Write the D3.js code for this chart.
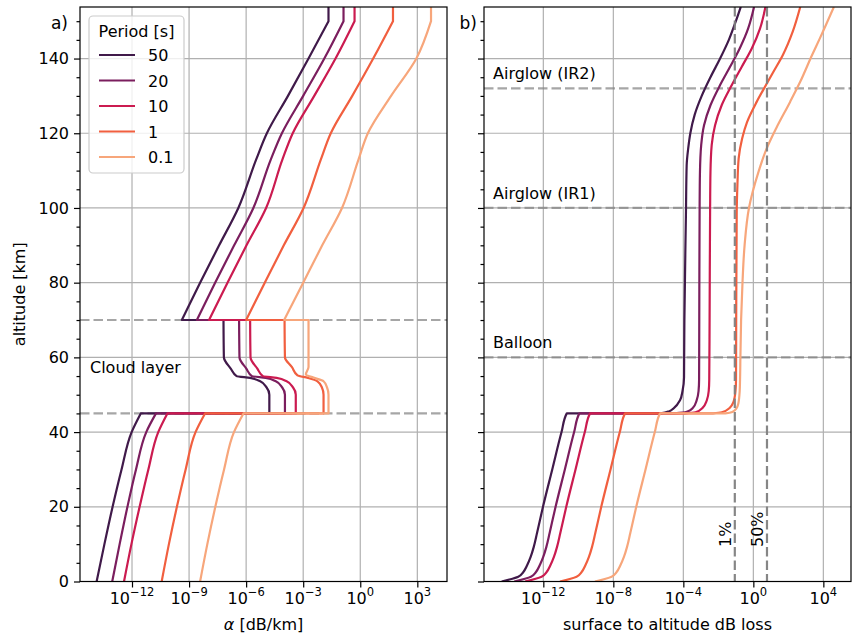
<!DOCTYPE html>
<html>
<head>
<meta charset="utf-8">
<script src="https://cdn.jsdelivr.net/npm/d3@7"></script>
<style>
  body { margin: 0; background: #fff; }
  svg { display: block; }
  text { font-family: "DejaVu Sans", sans-serif; fill: #000; }
</style>
</head>
<body>
<svg id="chart" width="852" height="641"></svg>
<script>
// ---- data (altitude km, log10 of value) ----
let periods = ["50", "20", "10", "1", "0.1"];

// panel a) attenuation alpha [dB/km]
let alpha50 = [[0,-13.86],[10,-13.45],[20,-13.02],[30,-12.55],[40,-12.02],[45,-11.54],
  [45,-4.78],[50,-4.78],[52,-4.93],[53.6,-5.26],[54.5,-5.79],[55,-6.5],[57,-6.81],[60,-7.17],[70,-7.19],
  [70,-9.38],[80,-8.42],[90,-7.42],[100,-6.41],[113,-5.47],[120,-4.91],[130,-3.8],[140,-2.72],[150,-1.67],[153.8,-1.67]];
let alpha20 = [[0,-13.04],[10,-12.65],[20,-12.24],[30,-11.79],[40,-11.25],[45,-10.74],
  [45,-3.96],[50,-3.96],[52,-4.11],[53.6,-4.44],[54.5,-4.97],[55,-5.7],[57,-5.99],[60,-6.35],[70,-6.37],
  [70,-8.59],[80,-7.63],[90,-6.63],[100,-5.62],[113,-4.7],[120,-4.12],[130,-3.0],[140,-1.89],[150,-0.88],[153.8,-0.88]];
let alpha10 = [[0,-12.42],[10,-12.03],[20,-11.6],[30,-11.14],[40,-10.62],[45,-10.14],
  [45,-3.39],[50,-3.39],[52,-3.54],[53.6,-3.87],[54.5,-4.4],[55,-5.12],[57,-5.41],[60,-5.77],[70,-5.79],
  [70,-7.95],[80,-6.98],[90,-5.98],[100,-4.95],[113,-4.09],[120,-3.55],[130,-2.42],[140,-1.3],[150,-0.3],[153.8,-0.3]];
let alpha1 = [[0,-10.44],[10,-10.06],[20,-9.64],[30,-9.18],[40,-8.66],[45,-8.16],
  [45,-1.93],[50,-1.93],[52,-2.02],[53.6,-2.25],[54.5,-2.75],[55.2,-3.3],[57.4,-3.59],[60,-3.96],[70,-3.98],
  [70,-6.0],[80,-5.02],[90,-4.02],[100,-2.98],[113,-2.07],[120,-1.55],[130,-0.42],[140,0.68],[150,1.72],[153.8,1.72]];
let alpha01 = [[0,-8.42],[10,-8.04],[20,-7.62],[30,-7.16],[40,-6.64],[45,-6.14],
  [45,-1.67],[50,-1.67],[52,-1.75],[53.6,-1.93],[54.6,-2.46],[55.4,-2.86],[57.4,-2.72],[60,-2.72],[70,-2.72],
  [70,-4.0],[80,-3.0],[90,-2.0],[100,-0.96],[113,-0.09],[120,0.4],[130,1.62],[140,2.95],[150,3.72],[153.8,3.72]];

// panel b) surface to altitude loss [dB]
let loss50 = [[0,-14.38],[1.3,-13.43],[2.5,-13.15],[4.4,-12.92],[6.5,-12.73],[9.2,-12.55],[13,-12.36],[20,-12.02],[30,-11.49],[40,-10.96],[45,-10.66],
  [45.02,-5.3],[45.6,-4.8],[46.3,-4.57],[48.5,-4.19],[51.2,-4.04],[54.7,-3.96],[70,-3.94],[98.9,-3.85],
  [111.4,-3.81],[116,-3.72],[120,-3.6],[125,-3.35],[130,-2.95],[135,-2.45],[140,-1.9],[145,-1.4],[150,-1.0],[153.8,-0.72]];
let loss20 = [[0,-13.66],[1.3,-12.71],[2.5,-12.43],[4.4,-12.2],[6.5,-12.01],[9.2,-11.83],[13,-11.64],[20,-11.3],[30,-10.77],[40,-10.24],[45,-9.94],
  [45.02,-4.5],[45.4,-3.8],[46.5,-3.45],[48.5,-3.24],[51,-3.13],[54,-3.1],[70,-3.09],[100,-3.07],
  [109.6,-3.05],[116.8,-2.98],[122.1,-2.82],[127.5,-2.45],[132.9,-1.9],[137.8,-1.33],[142.7,-0.78],[148,-0.3],[153.8,0.04]];
let loss10 = [[0,-13.05],[1.3,-12.1],[2.5,-11.82],[4.4,-11.59],[6.5,-11.4],[9.2,-11.22],[13,-11.03],[20,-10.69],[30,-10.16],[40,-9.63],[45,-9.33],
  [45.02,-3.9],[45.3,-3.3],[46.5,-2.9],[48.5,-2.66],[51,-2.55],[54,-2.52],[70,-2.5],[100,-2.47],
  [109.6,-2.45],[116.8,-2.38],[122.1,-2.19],[127.5,-1.81],[132.9,-1.23],[137.8,-0.66],[142.7,-0.09],[148,0.38],[153.8,0.69]];
let loss1 = [[0,-11.05],[1.3,-10.1],[2.5,-9.82],[4.4,-9.59],[6.5,-9.4],[9.2,-9.22],[13,-9.03],[20,-8.69],[30,-8.16],[40,-7.63],[45,-7.33],
  [45.02,-2.3],[45.3,-1.8],[46.5,-1.35],[48,-1.14],[51,-1.02],[54,-0.99],[70,-0.98],[98.9,-0.95],
  [106.1,-0.91],[113.2,-0.84],[118.6,-0.64],[123,-0.36],[128.4,0.19],[133.3,0.77],[136.4,1.14],[140.9,1.68],[147.2,2.25],[153.8,2.68]];
let loss01 = [[0,-9.05],[1.3,-8.1],[2.5,-7.82],[4.4,-7.59],[6.5,-7.4],[9.2,-7.22],[13,-7.03],[20,-6.69],[30,-6.16],[40,-5.63],[45,-5.33],
  [45.02,-1.6],[45.4,-1.2],[46.5,-0.95],[47.6,-0.86],[51,-0.78],[54,-0.76],[60,-0.74],[70,-0.7],[80,-0.62],[90,-0.5],
  [100,-0.25],[109.6,0.29],[116,0.77],[121.3,1.3],[128.4,2.1],[133.7,2.67],[140.9,3.35],[145.4,3.8],[153.8,4.6]];

let alphaSeries = [alpha50, alpha20, alpha10, alpha1, alpha01];
let lossSeries = [loss50, loss20, loss10, loss1, loss01];

let altTicks = [0, 20, 40, 60, 80, 100, 120, 140];
let alphaTicks = [-12, -9, -6, -3, 0, 3];
let lossTicks = [-12, -8, -4, 0, 4];

let cloudLayer = [45, 70];
let platforms = [["Balloon", 60], ["Airglow (IR1)", 100], ["Airglow (IR2)", 132]];
let lossMarks = [["1%", 0.0873], ["50%", 6.02]];

// ---- layout ----
let colors = ["#401a4a", "#7b1e5e", "#cb1b50", "#f15f3f", "#f7a67b"];
let fs = 16;
let svg = d3.select("#chart");
let yTop = 7, yBot = 581.5;

let yScale = d3.scaleLinear().domain([0, 153.8]).range([yBot, yTop]);
let xA = d3.scaleLog().domain([Math.pow(10, -14.734), Math.pow(10, 4.56)]).range([80, 447]);
let xB = d3.scaleLog().domain([Math.pow(10, -15.39), Math.pow(10, 5.58)]).range([484, 851]);

let minorAlt = d3.range(5, 155, 5).filter((d) => d % 20 !== 0);

let drawPanel = (xScale, ticks, id) => {
  let [x0, x1] = xScale.range();
  let g = svg.append("g");

  // grid
  g.selectAll(".vg").data(ticks).enter().append("line")
    .attr("x1", (d) => xScale(Math.pow(10, d))).attr("x2", (d) => xScale(Math.pow(10, d)))
    .attr("y1", yTop).attr("y2", yBot)
    .attr("stroke", "#b0b0b0").attr("stroke-width", 1.2);
  g.selectAll(".hg").data(altTicks).enter().append("line")
    .attr("x1", x0).attr("x2", x1)
    .attr("y1", (d) => yScale(d)).attr("y2", (d) => yScale(d))
    .attr("stroke", "#b0b0b0").attr("stroke-width", 1.2);

  // y axis ticks
  let yAxis = d3.axisLeft(yScale).tickValues(altTicks).tickSize(6).tickPadding(5);
  if (id === "b") yAxis.tickFormat(() => "");
  let ya = g.append("g").attr("transform", "translate(" + x0 + ",0)").call(yAxis);
  let yMinor = g.append("g").attr("transform", "translate(" + x0 + ",0)")
    .call(d3.axisLeft(yScale).tickValues(minorAlt).tickSize(3.5).tickFormat(() => ""));

  // x axis ticks with 10^n labels
  let xa = g.append("g").attr("transform", "translate(0," + yBot + ")")
    .call(d3.axisBottom(xScale).tickValues(ticks.map((d) => Math.pow(10, d))).tickSize(6).tickFormat(() => ""));

  [ya, yMinor, xa].forEach((a) => {
    a.select(".domain").remove();
    a.selectAll("line").attr("stroke", "#000").attr("stroke-width", 1.2);
    a.selectAll("text").attr("font-size", fs).attr("font-family", "DejaVu Sans").attr("fill", "#000");
  });

  let lab = g.selectAll(".xl").data(ticks).enter().append("text")
    .attr("x", (d) => xScale(Math.pow(10, d)))
    .attr("y", 604)
    .attr("text-anchor", "middle")
    .attr("font-size", fs);
  lab.append("tspan").text("10");
  lab.append("tspan").attr("dy", -8).attr("font-size", fs * 0.72)
    .text((d) => (d < 0 ? "\u2212" + (-d) : "" + d));

  return g;
};

// smooth each piece between jumps, keep jumps and a vertical top end sharp
let buildPath = (series, xScale) => {
  let gen = d3.line()
    .x((d) => xScale(Math.pow(10, d[1])))
    .y((d) => yScale(d[0]))
    .curve(d3.curveMonotoneY);
  let segs = [];
  let cur = [];
  series.forEach((p, i) => {
    if (i > 0 && p[0] === series[i - 1][0]) {
      segs.push(cur);
      cur = [];
    }
    cur.push(p);
  });
  segs.push(cur);

  let d = "";
  segs.forEach((seg, k) => {
    let n = seg.length;
    let tail = null;
    if (k === segs.length - 1 && n > 2 && seg[n - 1][1] === seg[n - 2][1]) {
      tail = seg[n - 1];
      seg = seg.slice(0, -1);
    }
    let s = seg.length > 1 ? gen(seg) : "M" + xScale(Math.pow(10, seg[0][1])) + "," + yScale(seg[0][0]);
    if (k > 0) s = "L" + s.slice(1);
    d += s;
    if (tail) d += "L" + xScale(Math.pow(10, tail[1])) + "," + yScale(tail[0]);
  });
  return d;
};

// clip areas
let defs = svg.append("defs");
defs.append("clipPath").attr("id", "clipA").append("rect")
  .attr("x", 80).attr("y", yTop).attr("width", 367).attr("height", yBot - yTop);
defs.append("clipPath").attr("id", "clipB").append("rect")
  .attr("x", 484).attr("y", yTop).attr("width", 367).attr("height", yBot - yTop);

// ---- panel a ----
drawPanel(xA, alphaTicks, "a");
let pa = svg.append("g").attr("clip-path", "url(#clipA)");

pa.selectAll(".cl").data(cloudLayer).enter().append("line")
  .attr("x1", 80).attr("x2", 447)
  .attr("y1", (d) => yScale(d)).attr("y2", (d) => yScale(d))
  .attr("stroke", "#808080").attr("stroke-opacity", 0.7)
  .attr("stroke-width", 2.2).attr("stroke-dasharray", "9.5,4");

alphaSeries.forEach((s, i) => {
  pa.append("path")
    .attr("d", buildPath(s, xA))
    .attr("fill", "none").attr("stroke", colors[i])
    .attr("stroke-width", 2.2).attr("stroke-linejoin", "round");
});

svg.append("text").text("Cloud layer")
  .attr("x", 90).attr("y", yScale((cloudLayer[0] + cloudLayer[1]) / 2) + 6)
  .attr("font-size", fs);

// ---- panel b ----
drawPanel(xB, lossTicks, "b");
let pb = svg.append("g").attr("clip-path", "url(#clipB)");

pb.selectAll(".pl").data(platforms).enter().append("line")
  .attr("x1", 484).attr("x2", 851)
  .attr("y1", (d) => yScale(d[1])).attr("y2", (d) => yScale(d[1]))
  .attr("stroke", "#808080").attr("stroke-opacity", 0.7)
  .attr("stroke-width", 2.2).attr("stroke-dasharray", "9.5,4");

lossSeries.forEach((s, i) => {
  pb.append("path")
    .attr("d", buildPath(s, xB))
    .attr("fill", "none").attr("stroke", colors[i])
    .attr("stroke-width", 2.2).attr("stroke-linejoin", "round");
});

pb.selectAll(".lm").data(lossMarks).enter().append("line")
  .attr("x1", (d) => xB(d[1])).attr("x2", (d) => xB(d[1]))
  .attr("y1", yTop).attr("y2", yBot)
  .attr("stroke", "#808080").attr("stroke-opacity", 0.95)
  .attr("stroke-width", 2.2).attr("stroke-dasharray", "9.5,4");

platforms.forEach((p) => {
  svg.append("text").text(p[0])
    .attr("x", 493).attr("y", yScale(p[1]) - 9)
    .attr("font-size", fs);
});

lossMarks.forEach((m) => {
  svg.append("text").text(m[0])
    .attr("transform", "translate(" + (xB(m[1]) - 4) + "," + 547 + ") rotate(-90)")
    .attr("font-size", fs);
});

// frames
[[80, 447], [484, 851]].forEach((r) => {
  svg.append("rect").attr("x", r[0]).attr("y", yTop)
    .attr("width", r[1] - r[0]).attr("height", yBot - yTop)
    .attr("fill", "none").attr("stroke", "#000").attr("stroke-width", 1.2);
});

// labels
svg.append("text").text("a)").attr("x", 68).attr("y", 29).attr("text-anchor", "end").attr("font-size", fs + 1);
svg.append("text").text("b)").attr("x", 477).attr("y", 29).attr("text-anchor", "end").attr("font-size", fs + 1);

svg.append("text").text("altitude [km]")
  .attr("transform", "translate(25," + (yTop + yBot) / 2 + ") rotate(-90)")
  .attr("text-anchor", "middle").attr("font-size", fs);

let xl = svg.append("text").attr("x", 263.5).attr("y", 630)
  .attr("text-anchor", "middle").attr("font-size", fs);
xl.append("tspan").attr("font-style", "italic").text("\u03b1");
xl.append("tspan").text(" [dB/km]");

svg.append("text").text("surface to altitude dB loss")
  .attr("x", 667.5).attr("y", 630).attr("text-anchor", "middle").attr("font-size", fs);

// legend
let lg = svg.append("g");
lg.append("rect").attr("x", 89).attr("y", 16).attr("width", 95).attr("height", 157)
  .attr("rx", 4).attr("fill", "#fff").attr("fill-opacity", 0.8)
  .attr("stroke", "#cccccc").attr("stroke-width", 1.2);
lg.append("text").text("Period [s]").attr("x", 136.5).attr("y", 37)
  .attr("text-anchor", "middle").attr("font-size", fs);
periods.forEach((p, i) => {
  let ly = 55 + i * 25.5;
  lg.append("line").attr("x1", 99).attr("x2", 135).attr("y1", ly).attr("y2", ly)
    .attr("stroke", colors[i]).attr("stroke-width", 2.2);
  lg.append("text").text(p).attr("x", 148).attr("y", ly + 6).attr("font-size", fs);
});
</script>
</body>
</html>
